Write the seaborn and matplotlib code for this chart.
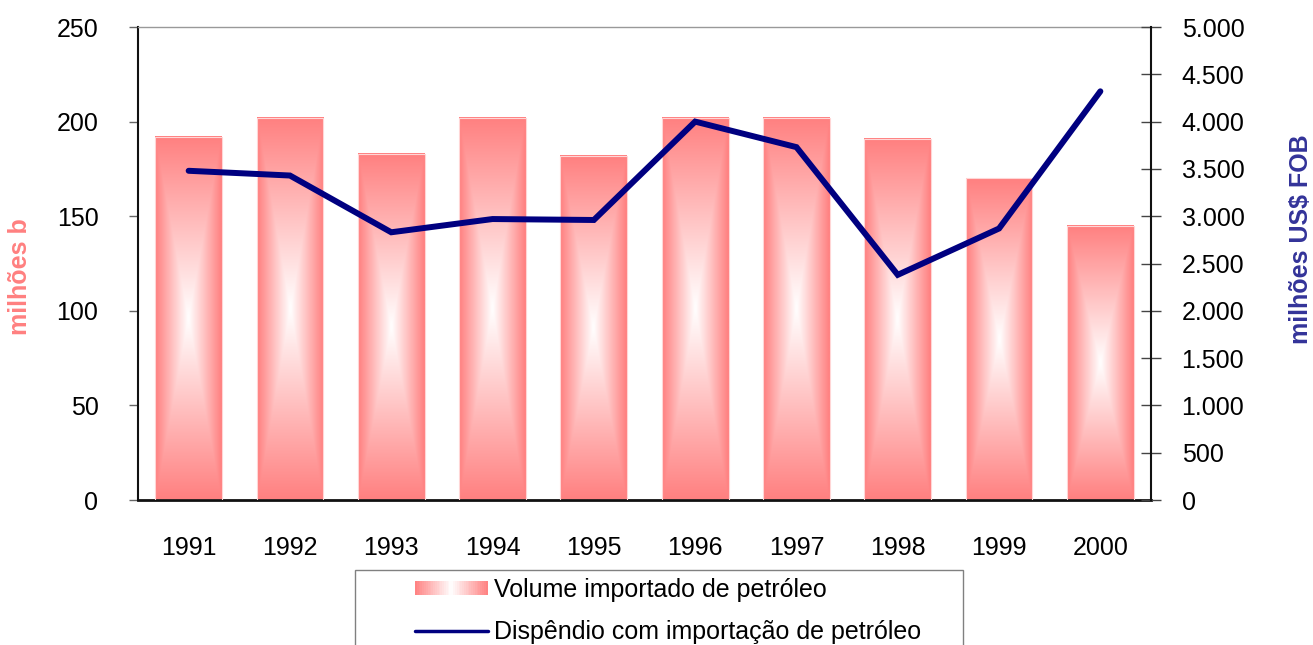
import numpy as np
import pandas as pd
import matplotlib
matplotlib.use('Agg')
import matplotlib.pyplot as plt
import matplotlib.patches as mpatches
from matplotlib.colors import to_rgb
from matplotlib.legend_handler import HandlerBase
from matplotlib.lines import Line2D
from matplotlib.ticker import FuncFormatter
import seaborn as sns

anos = ['1991', '1992', '1993', '1994', '1995', '1996', '1997', '1998', '1999', '2000']
volume = [192, 202, 183, 202, 182, 202, 202, 191, 170, 145]
dispendio = [3480, 3430, 2830, 2970, 2960, 4000, 3730, 2380, 2870, 4320]

rosa = '#FF8080'
azul = '#000080'
azul_label = '#333399'

sns.set_style('white')
plt.rcParams['font.family'] = ['Liberation Sans', 'DejaVu Sans']
plt.rcParams['text.color'] = 'black'

df = pd.DataFrame({'ano': anos, 'volume': volume, 'dispendio': dispendio})

rgb_rosa = np.array(to_rgb(rosa))


def cor_gradiente(t):
    # t=0 branco, t=1 rosa
    return 1 - (1 - rgb_rosa) * t


def imagem_gradiente(nx=60, ny=200):
    u = np.abs(np.linspace(-1, 1, nx))
    v = np.abs(np.linspace(-1, 1, ny))
    t = np.maximum(u[None, :], v[:, None])
    return 1 - (1 - rgb_rosa)[None, None, :] * t[..., None]


class HandlerGradiente(HandlerBase):
    def create_artists(self, legend, orig_handle, xdescent, ydescent,
                       width, height, fontsize, trans):
        n = 40
        artistas = []
        for i in range(n):
            t = abs((i + 0.5) / n * 2 - 1)
            r = mpatches.Rectangle((-xdescent + i * width / n, -ydescent),
                                   width / n * 1.05, height,
                                   facecolor=cor_gradiente(t), edgecolor='none',
                                   transform=trans)
            artistas.append(r)
        return artistas


fig = plt.figure(figsize=(13.13, 6.45), dpi=100)
ax = fig.add_axes([138 / 1313, 1 - 500 / 645, (1151 - 138) / 1313, 473 / 645])

sns.barplot(data=df, x='ano', y='volume', color=rosa, saturation=1,
            width=0.66, ax=ax, zorder=2)

img = imagem_gradiente()
for p in ax.patches:
    x, w, h = p.get_x(), p.get_width(), p.get_height()
    ax.imshow(img, extent=[x, x + w, 0, h], aspect='auto',
              interpolation='bilinear', zorder=2)
    p.set_facecolor('none')
    p.set_edgecolor('#FFD6D6')
    p.set_linewidth(0.8)
    p.set_zorder(3)

ax.set_xlim(-0.5, 9.5)
ax.set_ylim(0, 250)
ax.set_yticks(range(0, 251, 50))
ax.set_xlabel('')
ax.set_ylabel('')
ax.set_xticks(np.arange(-0.5, 10, 1), minor=True)
ax.tick_params(axis='x', which='major', length=0, pad=26, labelsize=18,
               labelcolor='black')
ax.tick_params(axis='x', which='minor', direction='inout', length=12,
               width=1, color='#404040')
ax.tick_params(axis='y', which='major', left=True, direction='out', length=6.5,
               width=1, color='#666666', pad=22, labelsize=18, labelcolor='black')

for lado in ['left', 'bottom']:
    ax.spines[lado].set_color('#111111')
ax.spines['left'].set_linewidth(1.5)
ax.spines['bottom'].set_linewidth(2)
ax.spines['top'].set_color('#999999')
ax.spines['top'].set_linewidth(1)
ax.spines['right'].set_visible(False)

ax2 = ax.twinx()
sns.lineplot(data=df, x='ano', y='dispendio', color=azul, lw=4.3,
             solid_capstyle='round', solid_joinstyle='miter', ax=ax2, zorder=5)
ax2.set_ylim(0, 5000)
ax2.set_yticks(range(0, 5001, 500))
ax2.yaxis.set_major_formatter(FuncFormatter(lambda v, pos: f'{v:,.0f}'.replace(',', '.')))
ax2.set_ylabel('')
ax2.set_xlabel('')
ax2.tick_params(axis='y', which='major', right=True, direction='inout', length=14,
                width=1, color='#444444', pad=15, labelsize=18, labelcolor='black')
ax2.spines['right'].set_color('#111111')
ax2.spines['right'].set_linewidth(1.5)
for lado in ['left', 'top', 'bottom']:
    ax2.spines[lado].set_visible(False)
ax2.set_xlim(-0.5, 9.5)

fig.text(20 / 1313, 1 - 277 / 645, 'milhões b', rotation=90, ha='center', va='center',
         fontsize=18, fontweight='bold', color=rosa)
fig.text(1301 / 1313, 1 - 239 / 645, 'milhões US$ FOB', rotation=90, ha='center',
         va='center', fontsize=18, fontweight='bold', color=azul_label)

proxy_barra = mpatches.Patch(color=rosa)
proxy_linha = Line2D([], [], color=azul, lw=2.5)
fig.legend(handles=[proxy_barra, proxy_linha],
           labels=['Volume importado de petróleo', 'Dispêndio com importação de petróleo'],
           handler_map={mpatches.Patch: HandlerGradiente()},
           loc='upper left', bbox_to_anchor=(415 / 1313, 1 - 578 / 645),
           frameon=False, fontsize=18, borderpad=0, borderaxespad=0,
           handlelength=2.9, handleheight=0.5, handletextpad=0.25, labelspacing=0.72)

caixa = mpatches.Rectangle((355 / 1313, -0.1), 608 / 1313, 0.1 + 75 / 645,
                           transform=fig.transFigure, fill=False,
                           edgecolor='#808080', lw=1)
fig.add_artist(caixa)

fig.savefig('out.png', dpi=100)
